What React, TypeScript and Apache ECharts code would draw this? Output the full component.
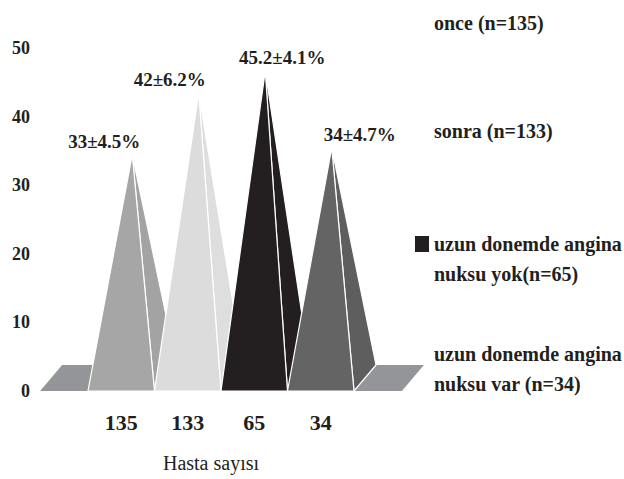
import React, { useEffect, useRef } from "react";
import * as echarts from "echarts";

const categories = ["135", "133", "65", "34"];
const values = [33, 42, 45.2, 34];
const valueLabels = ["33±4.5%", "42±6.2%", "45.2±4.1%", "34±4.7%"];
const seriesNames = [
  "once (n=135)",
  "sonra (n=133)",
  "uzun donemde angina\nnuksu yok(n=65)",
  "uzun donemde angina\nnuksu var (n=34)",
];
const yMin = 0;
const yMax = 50;
const yInterval = 10;

const frontColors = ["#a6a6a6", "#dcdcdc", "#231f20", "#646464"];
const sideColors = ["#a3a3a3", "#dedede", "#231f20", "#5e5e5e"];
const floorColor = "#939598";
const labelDx = [-28, -29, 17, 28];
const DEPTH_X = 22;
const DEPTH_Y = 26;
const APEX_LIFT = 10;
const FLOOR_EXT = 0.72;
const FONT = "'Liberation Serif', 'Times New Roman', serif";
const INK = "#231f20";

export default function App() {
  const ref = useRef<HTMLDivElement>(null);
  useEffect(() => {
    if (!ref.current) return;
    const chart = echarts.init(ref.current, undefined, { renderer: "svg" });

    const floorSeries: any = {
      type: "custom",
      name: "floor",
      silent: true,
      data: [[0, categories.length - 1]],
      encode: { x: [0, 1] },
      renderItem: (params: any, api: any) => {
        const a = api.coord([api.value(0), 0]);
        const b = api.coord([api.value(1), 0]);
        const bw = api.size([1, 0])[0];
        const l = a[0] - bw / 2 - bw * FLOOR_EXT;
        const r = b[0] + bw / 2 + bw * FLOOR_EXT;
        const y = a[1];
        return {
          type: "polygon",
          shape: {
            points: [
              [l, y],
              [r, y],
              [r + DEPTH_X, y - DEPTH_Y],
              [l + DEPTH_X, y - DEPTH_Y],
            ],
          },
          style: { fill: floorColor },
        };
      },
    };

    const pyramidSeries = categories.map((c, i) => ({
      type: "custom",
      name: seriesNames[i],
      itemStyle: { color: frontColors[i] },
      data: [[i, values[i]]],
      encode: { x: 0, y: 1 },
      renderItem: (params: any, api: any) => {
        const idx = api.value(0);
        const v = api.value(1);
        const base = api.coord([idx, 0]);
        const top = api.coord([idx, v]);
        const bw = api.size([1, 0])[0];
        const fl = [base[0] - bw / 2, base[1]];
        const fr = [base[0] + bw / 2, base[1]];
        const br = [fr[0] + DEPTH_X, fr[1] - DEPTH_Y];
        const apex = [base[0] + DEPTH_X / 2, top[1] - APEX_LIFT];
        return {
          type: "group",
          children: [
            {
              type: "polygon",
              shape: { points: [fr, br, apex] },
              style: { fill: sideColors[i], stroke: "#ffffff", lineWidth: 1.2 },
            },
            {
              type: "polygon",
              shape: { points: [fl, fr, apex] },
              style: { fill: frontColors[i], stroke: "#ffffff", lineWidth: 1.2 },
            },
            {
              type: "text",
              x: apex[0] + labelDx[i],
              y: apex[1] - 4,
              style: {
                text: valueLabels[i],
                fill: INK,
                font: `bold 19px ${FONT}`,
                align: "center",
                verticalAlign: "bottom",
              },
            },
          ],
        };
      },
    }));

    const legendTops = [8, 116, 199, 309];
    const legends = seriesNames.map((n, i) => ({
      data: [n],
      left: 415,
      top: legendTops[i],
      padding: 0,
      orient: "vertical",
      selectedMode: false,
      itemWidth: 14,
      itemHeight: 16,
      icon: "rect",
      itemStyle: { opacity: i === 2 ? 1 : 0 },
      formatter: (name: string) => (name.indexOf("\n") >= 0 ? "\n" + name : name),
      textStyle: {
        fontFamily: FONT,
        fontWeight: "bold",
        fontSize: 20,
        color: INK,
        lineHeight: 30,
      },
    }));

    chart.setOption({
      animation: false,
      backgroundColor: "#ffffff",
      grid: { left: 88, right: 270, top: 48, bottom: 88, outerBoundsMode: "none" },
      legend: legends,
      xAxis: {
        type: "category",
        data: categories,
        axisLine: { show: false },
        axisTick: { show: false },
        splitLine: { show: false },
        axisLabel: {
          margin: 20,
          fontFamily: FONT,
          fontWeight: "bold",
          fontSize: 22,
          color: INK,
        },
        name: "Hasta sayısı",
        nameLocation: "middle",
        nameGap: 62,
        nameTextStyle: {
          fontFamily: FONT,
          fontSize: 20,
          color: INK,
          padding: [0, 20, 0, 0],
        },
      },
      yAxis: {
        type: "value",
        min: yMin,
        max: yMax,
        interval: yInterval,
        axisLine: { show: false },
        axisTick: { show: false },
        splitLine: { show: false },
        axisLabel: {
          margin: 58,
          fontFamily: FONT,
          fontWeight: "bold",
          fontSize: 18,
          color: INK,
        },
      },
      series: [floorSeries, ...pyramidSeries],
    });
    return () => chart.dispose();
  }, []);
  return <div ref={ref} style={{ width: 624, height: 479, position: "absolute", left: 0, top: 0 }} />;
}
